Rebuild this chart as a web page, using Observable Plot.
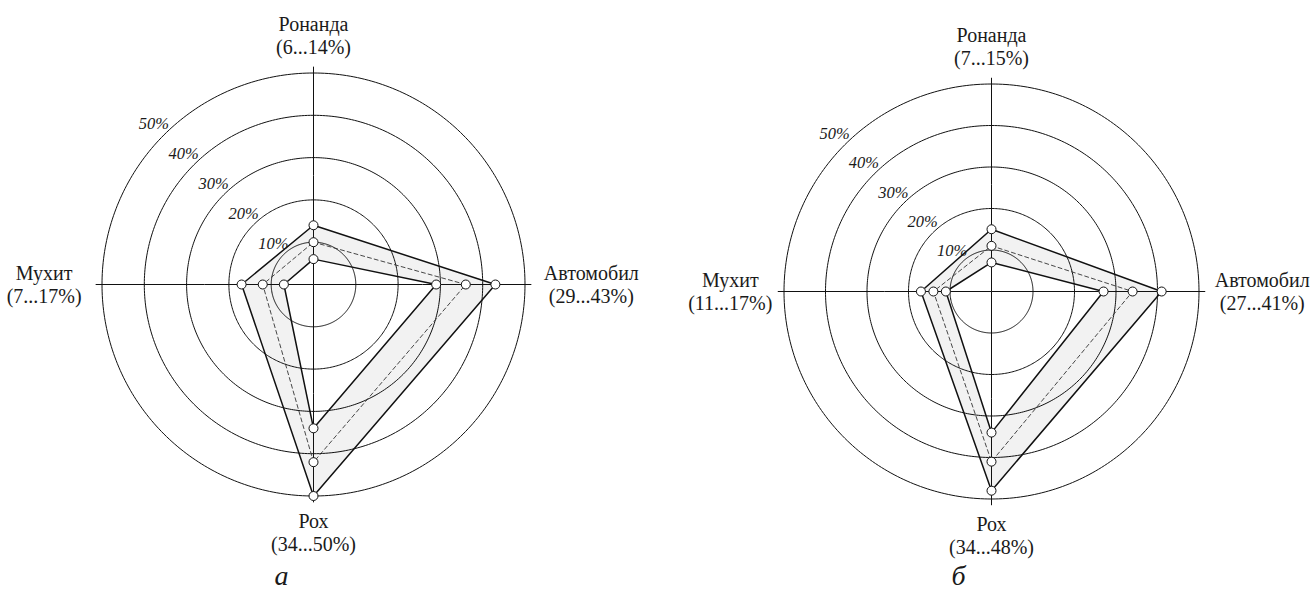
<!DOCTYPE html>
<html lang="tg">
<head>
<meta charset="utf-8">
<script src="https://cdn.jsdelivr.net/npm/d3@7"></script>
<script src="https://cdn.jsdelivr.net/npm/@observablehq/plot@0.6"></script>
<style>
  html, body { margin: 0; padding: 0; background: #fff; }
  #charts { display: flex; width: 1312px; height: 591px; overflow: hidden; }
  #charts svg { display: block; flex: none; }
  #charts svg, #charts svg text { font-family: "Liberation Serif", "DejaVu Serif", "Times New Roman", serif !important; }
</style>
</head>
<body>
<div id="charts"></div>
<script>
// Radar axes, clockwise from the top
const categories = ["Ронанда", "Автомобил", "Рох", "Мухит"];

// Panel а: lower bound, upper bound and mid value of each share, %
const lowA = [6, 29, 34, 7];
const highA = [14, 43, 50, 17];
const midA = [10, 36, 42, 12];

// Panel б
const lowB = [7, 27, 34, 11];
const highB = [15, 41, 48, 17];
const midB = [11, 34, 41, 14];

// Concentric rings and their labels
const ringTicks = [10, 20, 30, 40, 50];
const ringLabels = ["10%", "20%", "30%", "40%", "50%"];

const panelNames = ["а", "б"];

// Direction of each axis as a longitude around the pole
const bearing = {"Ронанда": 180, "Автомобил": 90, "Рох": 0, "Мухит": -90};
const axisReach = 51.5;
const serif = "Liberation Serif";

function radar({name, low, high, mid, width, height, cx, cy, radius, leftDx, rightDx, captionDx}) {
  // Azimuthal equidistant view centred on the pole: distance from centre is linear in value
  const projection = d3.geoAzimuthalEquidistant()
    .rotate([0, -90])
    .scale(radius / (50 * Math.PI / 180))
    .translate([cx, cy]);

  const rows = categories.map((cat, i) => ({cat, low: low[i], high: high[i], mid: mid[i]}));
  const lon = (d) => bearing[d.cat];
  const lat = (key) => (d) => 90 - d[key];

  const labelOffsets = {
    "Ронанда": [0, -32],
    "Автомобил": [rightDx, 0],
    "Рох": [0, 30],
    "Мухит": [leftDx, 0]
  };

  const categoryLabels = categories.map((cat) =>
    Plot.text(rows.filter((d) => d.cat === cat), {
      x: lon,
      y: 90 - axisReach,
      text: (d) => `${d.cat}\n(${d.low}...${d.high}%)`,
      textAnchor: "middle",
      lineAnchor: "middle",
      lineHeight: 1.15,
      fontSize: 20,
      fontFamily: serif,
      fill: "#1a1a1a",
      dx: labelOffsets[cat][0],
      dy: labelOffsets[cat][1]
    })
  );

  return Plot.plot({
    width,
    height,
    margin: 0,
    projection,
    style: {background: "white", overflow: "visible"},
    marks: [
      // band between the lower and upper polygons
      Plot.line(rows, {x: lon, y: lat("high"), curve: "linear-closed", fill: "#f2f2f2", stroke: "none"}),
      Plot.line(rows, {x: lon, y: lat("low"), curve: "linear-closed", fill: "white", stroke: "none"}),
      // rings
      Plot.geo(ringTicks, {
        geometry: (r) => d3.geoCircle().center([0, 90]).radius(r).precision(1)(),
        stroke: "#111",
        strokeWidth: 1,
        fill: "none"
      }),
      // axes
      Plot.link(categories, {
        x1: (c) => bearing[c], y1: 90,
        x2: (c) => bearing[c], y2: 90 - axisReach,
        stroke: "#111",
        strokeWidth: 1
      }),
      // mid values
      Plot.line(rows, {
        x: lon, y: lat("mid"), curve: "linear-closed",
        stroke: "#333", strokeWidth: 0.9, strokeDasharray: "4,3"
      }),
      // bounds
      Plot.line(rows, {x: lon, y: lat("low"), curve: "linear-closed", stroke: "#111", strokeWidth: 1.5}),
      Plot.line(rows, {x: lon, y: lat("high"), curve: "linear-closed", stroke: "#111", strokeWidth: 1.5}),
      ...["low", "mid", "high"].map((key) =>
        Plot.dot(rows, {x: lon, y: lat(key), r: 4.5, fill: "white", stroke: "#111", strokeWidth: 1})
      ),
      // ring labels along the upper-left diagonal
      Plot.text(ringTicks, {
        x: -135,
        y: (d) => 90 - d,
        text: (d, i) => ringLabels[i],
        textAnchor: "end",
        lineAnchor: "middle",
        fontStyle: "italic",
        fontSize: 16.5,
        fontFamily: serif,
        fill: "#1a1a1a",
        dx: 5,
        dy: -11
      }),
      ...categoryLabels,
      // panel letter
      Plot.text([name], {
        frameAnchor: "bottom",
        text: (d) => d,
        lineAnchor: "bottom",
        fontStyle: "italic",
        fontSize: 28,
        fontFamily: serif,
        fill: "#1a1a1a",
        dx: captionDx,
        dy: -7
      })
    ]
  });
}

const holder = document.getElementById("charts");
holder.append(radar({
  name: panelNames[0], low: lowA, high: highA, mid: midA,
  width: 656, height: 591, cx: 313, cy: 284, radius: 211.5,
  leftDx: -51.5, rightDx: 60, captionDx: -47
}));
holder.append(radar({
  name: panelNames[1], low: lowB, high: highB, mid: midB,
  width: 656, height: 591, cx: 335, cy: 291, radius: 207.5,
  leftDx: -47.5, rightDx: 57, captionDx: -26
}));
</script>
</body>
</html>
